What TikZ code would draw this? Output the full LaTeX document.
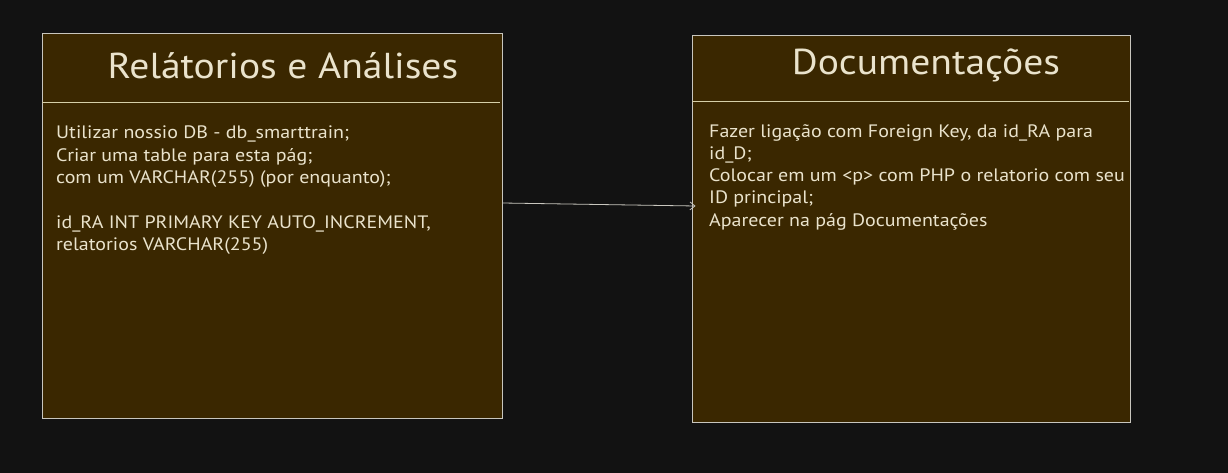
\documentclass[tikz,border=0pt]{standalone}
\usepackage{fontspec}
\setmainfont{PT Sans}[FakeStretch=1.11]
\newfontfamily\titlefont{PT Sans}[FakeStretch=1.1]
\usetikzlibrary{arrows.meta}
\definecolor{bgc}{HTML}{121212}
\definecolor{boxfill}{HTML}{3A2700}
\definecolor{boxline}{HTML}{C8C6BE}
\definecolor{divline}{HTML}{D6CFA8}
\definecolor{txt}{HTML}{EAE3CC}
\tikzset{
  panel/.style={draw=boxline, fill=boxfill, line width=0.9pt, inner sep=0pt},
  titletext/.style={text=txt, font=\titlefont\fontsize{36}{40}\selectfont, inner sep=0pt},
  bodytext/.style={text=txt, font=\fontsize{18}{22.3}\selectfont, align=left, anchor=north west, inner sep=0pt},
  divider/.style={draw=divline, line width=0.8pt},
  link/.style={draw=boxline, line width=0.8pt, -{Straight Barb[length=5pt,width=8pt]}}
}
\begin{document}
\begin{tikzpicture}[x=1pt,y=-1pt]
\fill[bgc] (0,0) rectangle (1228,473);
\useasboundingbox (0,0) rectangle (1228,473);
% left box
\node[panel, minimum width=460pt, minimum height=385pt] (ra) at (272,225.5) {};
\coordinate (raL) at (42,102);
\coordinate (raR) at (500,102);
\draw[divider] (raL) -- (raR);
\node[titletext] (ratitle) at (283,66) {Relátorios e Análises};
\node[bodytext] (rabody) at (56,126) {Utilizar nossio DB - db\_smarttrain;\\Criar uma table para esta pág;\\com um VARCHAR(255) (por enquanto);\\[22.3pt]id\_RA INT PRIMARY KEY AUTO\_INCREMENT,\\relatorios VARCHAR(255)};
% right box
\node[panel, minimum width=438pt, minimum height=387pt] (doc) at (911,228.5) {};
\coordinate (docL) at (692,101);
\coordinate (docR) at (1129,101);
\draw[divider] (docL) -- (docR);
\node[titletext] (doctitle) at (926,65) {Documentações};
\node[bodytext] (docbody) at (709,124) {Fazer ligação com Foreign Key, da id\_RA para\\id\_D;\\Colocar em um <p> com PHP o relatorio com seu\\ID principal;\\Aparecer na pág Documentações};
% connector
\draw[link] ([yshift=22.5pt]ra.east) -- ([yshift=22.5pt,xshift=4pt]doc.west);
\end{tikzpicture}
\end{document}
